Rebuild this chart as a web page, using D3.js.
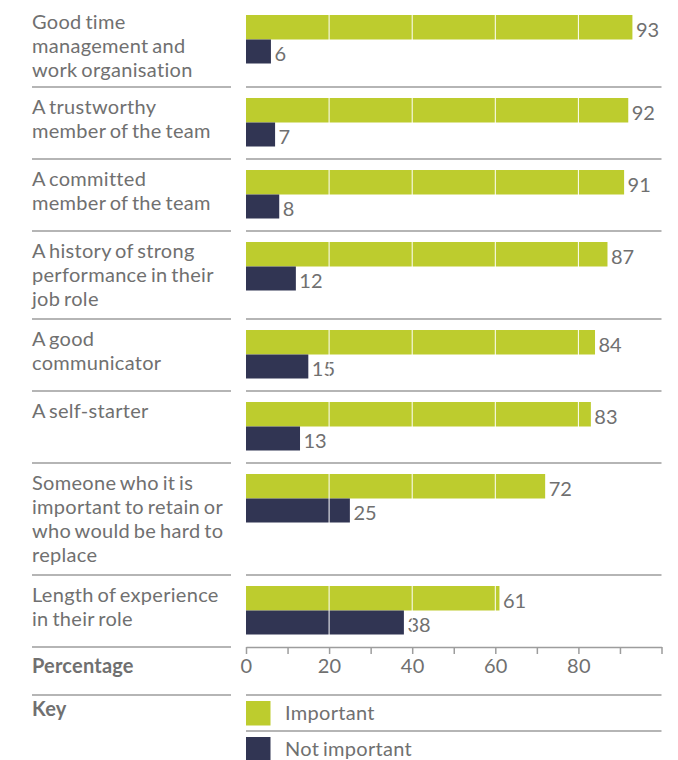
<!DOCTYPE html>
<html>
<head>
<meta charset="utf-8">
<script src="https://cdn.jsdelivr.net/npm/d3@7"></script>
<style>
  body { margin: 0; background: #fff; }
  svg text { font-family: Lato, "Open Sans", sans-serif; fill: #707070; }
</style>
</head>
<body>
<svg id="chart" width="678" height="760"></svg>
<script>
// Attributes, each label split into its printed lines
const categories = [
  ["Good time", "management and", "work organisation"],
  ["A trustworthy", "member of the team"],
  ["A committed", "member of the team"],
  ["A history of strong", "performance in their", "job role"],
  ["A good", "communicator"],
  ["A self-starter"],
  ["Someone who it is", "important to retain or", "who would be hard to", "replace"],
  ["Length of experience", "in their role"]
];
const important = [93, 92, 91, 87, 84, 83, 72, 61];
const notImportant = [6, 7, 8, 12, 15, 13, 25, 38];
const tickLabels = [0, 20, 40, 60, 80];
const seriesNames = ["Important", "Not important"];
const seriesColors = ["#bdcc2e", "#313553"];

const svg = d3.select("#chart");
const labelX = 32, labelEnd = 231;
const chartLeft = 246, chartRight = 661.5;
const x = d3.scaleLinear().domain([0, 100]).range([chartLeft, chartRight]);

const fontSize = 20, lineH = 24.2, barH = 24;
const textSpacing = 0.3, wordSpacing = -1.6;
const ruleColor = "#9d9d9d";

// row geometry: rows grow with the number of label lines
const rows = [];
let rowY = 4;
categories.forEach((lines, i) => {
  const h = i === 0 ? 83 : Math.max(72, lines.length * 24 + 16);
  rows.push({ y: rowY, h, lines, imp: important[i], not: notImportant[i], first: i === 0 });
  rowY += h;
});
const axisY = rowY; // bottom of last row

function rule(y, x1, x2) {
  svg.append("line").attr("x1", x1).attr("x2", x2).attr("y1", y).attr("y2", y)
    .attr("stroke", ruleColor).attr("stroke-width", 1.5);
}

const g = svg.append("g");
rows.forEach(r => {
  // category label
  const t = g.append("text").attr("x", labelX)
    .attr("font-size", fontSize).attr("letter-spacing", textSpacing).attr("word-spacing", wordSpacing);
  r.lines.forEach((ln, j) => {
    t.append("tspan").attr("x", labelX)
      .attr("y", r.y + (r.first ? 24.5 : 26.5) + j * lineH).text(ln);
  });
  const by = r.y + 11;
  // bars
  g.append("rect").attr("x", x(0)).attr("y", by).attr("width", x(r.imp) - x(0)).attr("height", barH + 0.5)
    .attr("fill", seriesColors[0]);
  g.append("rect").attr("x", x(0)).attr("y", by + barH + 0.5).attr("width", x(r.not) - x(0)).attr("height", barH)
    .attr("fill", seriesColors[1]);
  // values
  g.append("text").attr("x", x(r.imp) + 3.5).attr("y", by + barH - 2)
    .attr("font-size", fontSize).text(r.imp);
  g.append("text").attr("x", x(r.not) + 3.5).attr("y", by + 2 * barH - 2.5)
    .attr("font-size", fontSize).text(r.not);
});

// white guide lines across the bars
svg.append("g").selectAll("line").data(tickLabels.filter(d => d > 0)).join("line")
  .attr("x1", d => x(d)).attr("x2", d => x(d))
  .attr("y1", rows[0].y + 11).attr("y2", axisY - 12)
  .attr("stroke", "#fff").attr("stroke-width", 1);

// row separators
rows.slice(1).forEach(r => { rule(r.y, labelX, labelEnd); rule(r.y, chartLeft, chartRight); });
rule(axisY, labelX, labelEnd);

// axis
const axis = d3.axisBottom(x).tickValues(d3.range(0, 101, 10))
  .tickSize(7).tickSizeOuter(0).tickPadding(5)
  .tickFormat(d => tickLabels.includes(d) ? d : "");
const ax = svg.append("g").attr("transform", `translate(0,${axisY})`).call(axis);
ax.select(".domain").attr("stroke", ruleColor).attr("stroke-width", 1.5);
ax.selectAll(".tick line").attr("stroke", ruleColor).attr("stroke-width", 1.5);
ax.selectAll(".tick text").attr("font-size", fontSize).attr("letter-spacing", 0.3)
  .style("font-family", 'Lato, "Open Sans", sans-serif').attr("fill", "#707070");

svg.append("text").attr("x", labelX).attr("y", axisY + 25.5)
  .attr("font-size", fontSize).attr("font-weight", 700).attr("letter-spacing", 0.2).text("Percentage");

// key
const keyTop = axisY + 48;
rule(keyTop, labelX, labelEnd); rule(keyTop, chartLeft, chartRight);
svg.append("text").attr("x", labelX).attr("y", keyTop + 21)
  .attr("font-size", fontSize).attr("font-weight", 700).attr("letter-spacing", 0.2).text("Key");
seriesNames.forEach((name, i) => {
  const y0 = keyTop + 6 + i * 36;
  svg.append("rect").attr("x", chartLeft).attr("y", y0).attr("width", 24.5).attr("height", 24.5)
    .attr("fill", seriesColors[i]);
  svg.append("text").attr("x", 285).attr("y", y0 + 18.5)
    .attr("font-size", fontSize).attr("letter-spacing", textSpacing).attr("word-spacing", wordSpacing).text(name);
});
rule(keyTop + 36, chartLeft, chartRight);
</script>
</body>
</html>
